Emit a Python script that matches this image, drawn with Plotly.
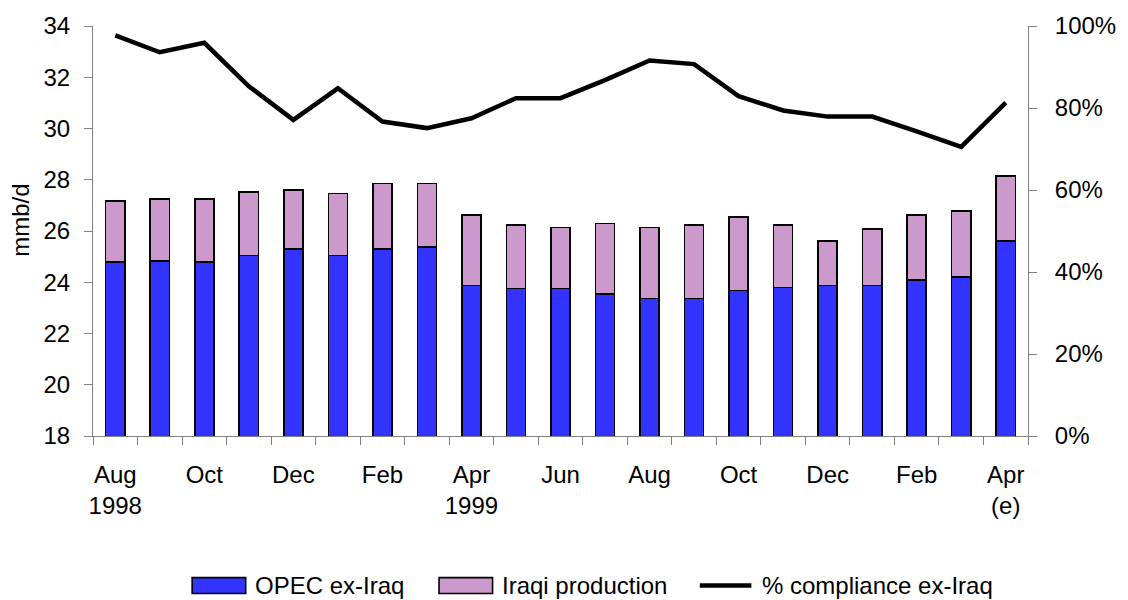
import plotly.graph_objects as go

# Monthly OPEC crude output (mmb/d) and compliance with quota cuts
months = [
    "Aug 1998", "Sep 1998", "Oct 1998", "Nov 1998", "Dec 1998", "Jan 1999",
    "Feb 1999", "Mar 1999", "Apr 1999", "May 1999", "Jun 1999", "Jul 1999",
    "Aug 1999", "Sep 1999", "Oct 1999", "Nov 1999", "Dec 1999", "Jan 2000",
    "Feb 2000", "Mar 2000", "Apr 2000",
]
opec_ex_iraq = [24.78, 24.84, 24.78, 25.05, 25.30, 25.05, 25.30, 25.38, 23.87, 23.75, 23.75,
                23.53, 23.36, 23.36, 23.68, 23.80, 23.87, 23.87, 24.08, 24.21, 25.60]
iraqi_production = [2.38, 2.40, 2.46, 2.48, 2.30, 2.41, 2.56, 2.48, 2.76, 2.48, 2.39,
                    2.77, 2.78, 2.87, 2.86, 2.43, 1.73, 2.20, 2.54, 2.56, 2.54]
compliance_ex_iraq = [0.977, 0.936, 0.959, 0.853, 0.771, 0.848, 0.767, 0.751, 0.775, 0.824, 0.824,
                      0.868, 0.916, 0.907, 0.829, 0.794, 0.779, 0.779, 0.743, 0.705, 0.813]
tick_labels = ["Aug<br>1998", "", "Oct", "", "Dec", "", "Feb", "", "Apr<br>1999", "", "Jun", "",
               "Aug", "", "Oct", "", "Dec", "", "Feb", "", "Apr<br>(e)"]

BLUE = "#3333FF"
PURPLE = "#CC99CC"
AXIS_GREY = "#808080"
FONT = "Arial, 'Liberation Sans', sans-serif"

W, H = 1128, 600
L, R, T, B = 93, 92, 22, 164
PW, PH = W - L - R, H - T - B


def px_x(x):
    return (x - L) / PW


def px_y(y):
    return (H - B - y) / PH


fig = go.Figure()
fig.add_trace(go.Bar(
    x=months, y=opec_ex_iraq, name="OPEC ex-Iraq",
    marker=dict(color=BLUE, line=dict(color="black", width=1.6)),
    showlegend=False,
))
fig.add_trace(go.Bar(
    x=months, y=iraqi_production, name="Iraqi production",
    marker=dict(color=PURPLE, line=dict(color="black", width=1.6)),
    showlegend=False,
))
fig.add_trace(go.Scatter(
    x=months, y=compliance_ex_iraq, name="% compliance ex-Iraq", yaxis="y2",
    mode="lines", line=dict(color="black", width=4.5),
    showlegend=False,
))

axis_font = dict(family=FONT, size=24, color="black")

fig.update_layout(
    width=W, height=H,
    margin=dict(l=L, r=R, t=T, b=B),
    paper_bgcolor="white", plot_bgcolor="white",
    barmode="stack", bargap=0.57,
    font=axis_font,
    xaxis=dict(
        type="category", categoryorder="array", categoryarray=months,
        tickmode="array", tickvals=months, ticktext=tick_labels,
        tickson="boundaries", ticks="outside", ticklen=8, tickcolor=AXIS_GREY,
        showline=True, linecolor=AXIS_GREY, linewidth=1,
        showgrid=False, zeroline=False, tickangle=0,
        ticklabelstandoff=17, tickfont=axis_font,
    ),
    yaxis=dict(
        range=[18, 34], dtick=2, tick0=18,
        ticks="outside", ticklen=8, tickcolor=AXIS_GREY,
        showline=True, linecolor=AXIS_GREY, linewidth=1,
        showgrid=False, zeroline=False,
        ticklabelstandoff=9, tickfont=axis_font,
    ),
    yaxis2=dict(
        overlaying="y", side="right", range=[0, 1],
        tickvals=[0, 0.2, 0.4, 0.6, 0.8, 1.0], tickformat=".0%",
        ticks="outside", ticklen=8, tickcolor=AXIS_GREY,
        showline=True, linecolor=AXIS_GREY, linewidth=1,
        showgrid=False, zeroline=False,
        ticklabelstandoff=13, tickfont=axis_font,
    ),
    yaxis3=dict(
        overlaying="y", side="right", range=[0, 1], anchor="x",
        tickvals=[0, 0.2, 0.4, 0.6, 0.8, 1.0],
        ticks="inside", ticklen=9, tickcolor=AXIS_GREY,
        showticklabels=False, showline=False, showgrid=False, zeroline=False,
    ),
)

# Rotated left-axis title
fig.add_annotation(
    text="mmb/d", xref="paper", yref="paper", x=px_x(19), y=px_y(218),
    textangle=-90, showarrow=False, font=axis_font,
    xanchor="center", yanchor="middle",
)

# Legend row below the chart
legend_y = 587
legend_items = [
    ("box", BLUE, 193, "OPEC ex-Iraq"),
    ("box", PURPLE, 442, "Iraqi production"),
    ("line", "black", 705, "% compliance ex-Iraq"),
]
for kind, color, x0, label in legend_items:
    if kind == "box":
        fig.add_shape(
            type="rect", xref="paper", yref="paper",
            x0=px_x(x0), x1=px_x(x0 + 54), y0=px_y(legend_y + 8), y1=px_y(legend_y - 8),
            fillcolor=color, line=dict(color="black", width=1.6),
        )
    else:
        fig.add_shape(
            type="line", xref="paper", yref="paper",
            x0=px_x(x0), x1=px_x(x0 + 52), y0=px_y(legend_y), y1=px_y(legend_y),
            line=dict(color=color, width=4.5),
        )
    fig.add_annotation(
        text=label, xref="paper", yref="paper", x=px_x(x0 + 61), y=px_y(legend_y),
        xanchor="left", yanchor="middle", showarrow=False, font=axis_font,
    )

fig.write_html("out.html")
